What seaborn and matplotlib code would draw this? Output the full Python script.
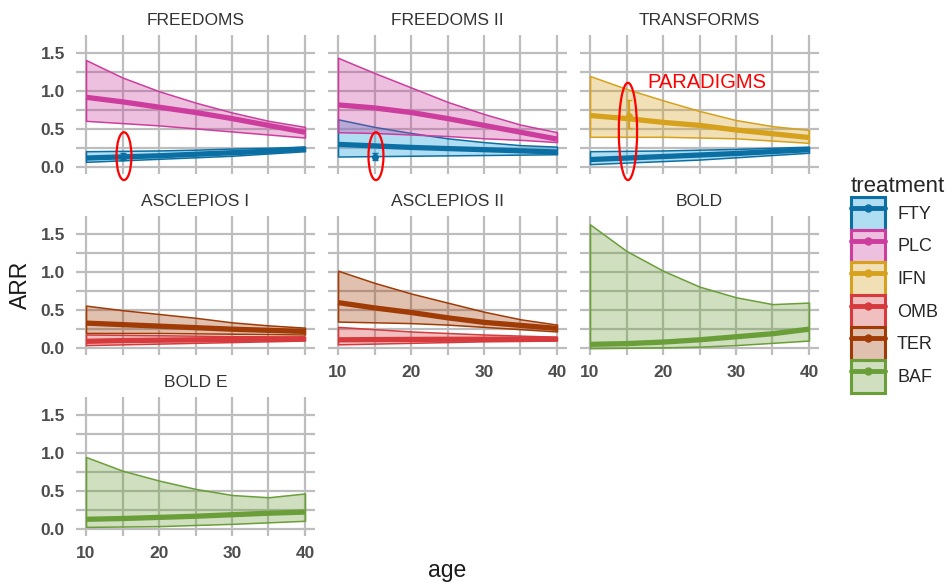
import numpy as np
import pandas as pd
import matplotlib
matplotlib.use("Agg")
import matplotlib.pyplot as plt
import seaborn as sns
from matplotlib.patches import Ellipse, Patch
from matplotlib.lines import Line2D
from matplotlib.colors import to_rgba

sns.set_style("white")
plt.rcParams["font.family"] = ["Liberation Sans", "DejaVu Sans"]

# ---- data ----
ages = [10, 15, 20, 25, 30, 35, 40]
studies = ["FREEDOMS", "FREEDOMS II", "TRANSFORMS", "ASCLEPIOS I",
           "ASCLEPIOS II", "BOLD", "BOLD E"]
treatments = ["FTY", "PLC", "IFN", "OMB", "TER", "BAF"]

freedoms_fty_mid = [0.12, 0.135, 0.15, 0.17, 0.19, 0.21, 0.24]
freedoms_fty_lo = [0.07, 0.09, 0.11, 0.13, 0.15, 0.18, 0.21]
freedoms_fty_hi = [0.21, 0.215, 0.22, 0.23, 0.245, 0.255, 0.27]
freedoms_plc_mid = [0.92, 0.86, 0.79, 0.72, 0.64, 0.55, 0.46]
freedoms_plc_lo = [0.61, 0.58, 0.55, 0.51, 0.47, 0.43, 0.39]
freedoms_plc_hi = [1.41, 1.18, 1.00, 0.85, 0.72, 0.61, 0.53]

freedoms2_fty_mid = [0.30, 0.28, 0.26, 0.245, 0.23, 0.215, 0.20]
freedoms2_fty_lo = [0.14, 0.145, 0.15, 0.155, 0.16, 0.165, 0.17]
freedoms2_fty_hi = [0.63, 0.53, 0.45, 0.38, 0.33, 0.29, 0.27]
freedoms2_plc_mid = [0.82, 0.78, 0.72, 0.64, 0.55, 0.46, 0.37]
freedoms2_plc_lo = [0.46, 0.45, 0.43, 0.41, 0.38, 0.36, 0.33]
freedoms2_plc_hi = [1.44, 1.24, 1.05, 0.86, 0.70, 0.56, 0.46]

transforms_fty_mid = [0.10, 0.12, 0.14, 0.16, 0.18, 0.205, 0.23]
transforms_fty_lo = [0.04, 0.06, 0.08, 0.10, 0.13, 0.16, 0.19]
transforms_fty_hi = [0.21, 0.215, 0.22, 0.23, 0.24, 0.255, 0.27]
transforms_ifn_mid = [0.68, 0.64, 0.59, 0.55, 0.49, 0.44, 0.39]
transforms_ifn_lo = [0.40, 0.40, 0.40, 0.39, 0.38, 0.35, 0.32]
transforms_ifn_hi = [1.20, 1.03, 0.88, 0.74, 0.62, 0.54, 0.49]

asclepios1_omb_mid = [0.09, 0.10, 0.105, 0.11, 0.115, 0.12, 0.125]
asclepios1_omb_lo = [0.04, 0.05, 0.06, 0.07, 0.08, 0.09, 0.10]
asclepios1_omb_hi = [0.18, 0.175, 0.17, 0.165, 0.16, 0.155, 0.15]
asclepios1_ter_mid = [0.33, 0.31, 0.29, 0.27, 0.25, 0.235, 0.22]
asclepios1_ter_lo = [0.20, 0.20, 0.20, 0.195, 0.19, 0.185, 0.18]
asclepios1_ter_hi = [0.56, 0.50, 0.45, 0.40, 0.34, 0.30, 0.27]

asclepios2_omb_mid = [0.11, 0.113, 0.115, 0.117, 0.118, 0.119, 0.12]
asclepios2_omb_lo = [0.05, 0.06, 0.07, 0.08, 0.09, 0.095, 0.10]
asclepios2_omb_hi = [0.28, 0.25, 0.22, 0.20, 0.18, 0.165, 0.15]
asclepios2_ter_mid = [0.60, 0.53, 0.47, 0.40, 0.34, 0.30, 0.26]
asclepios2_ter_lo = [0.35, 0.34, 0.33, 0.31, 0.28, 0.25, 0.22]
asclepios2_ter_hi = [1.02, 0.86, 0.72, 0.60, 0.48, 0.38, 0.31]

bold_baf_mid = [0.05, 0.06, 0.08, 0.11, 0.15, 0.19, 0.25]
bold_baf_lo = [0.00, 0.005, 0.01, 0.02, 0.04, 0.07, 0.10]
bold_baf_hi = [1.63, 1.28, 1.02, 0.81, 0.67, 0.58, 0.60]

bolde_baf_mid = [0.13, 0.14, 0.155, 0.17, 0.19, 0.21, 0.225]
bolde_baf_lo = [0.03, 0.035, 0.04, 0.055, 0.07, 0.09, 0.11]
bolde_baf_hi = [0.95, 0.77, 0.64, 0.53, 0.45, 0.42, 0.47]

# single trial estimates marked at age 15
trial_study = ["FREEDOMS", "FREEDOMS II", "TRANSFORMS"]
trial_treat = ["FTY", "FTY", "IFN"]
trial_age = [15.1, 15.1, 15.3]
trial_arr = [0.14, 0.14, 0.68]
trial_lo = [0.10, 0.10, 0.51]
trial_hi = [0.18, 0.18, 0.88]

line_colors = ["#0b6fa4", "#cc3d9e", "#d6a11c", "#d63a3d", "#a13b06", "#6a9e38"]
fill_colors = ["#4fb4e4", "#cc3d9e", "#d6a11c", "#d63a3d", "#a13b06", "#6a9e38"]
fill_alpha = [0.45, 0.32, 0.32, 0.32, 0.32, 0.32]

curves = [
    ("FREEDOMS", "FTY", freedoms_fty_mid, freedoms_fty_lo, freedoms_fty_hi),
    ("FREEDOMS", "PLC", freedoms_plc_mid, freedoms_plc_lo, freedoms_plc_hi),
    ("FREEDOMS II", "FTY", freedoms2_fty_mid, freedoms2_fty_lo, freedoms2_fty_hi),
    ("FREEDOMS II", "PLC", freedoms2_plc_mid, freedoms2_plc_lo, freedoms2_plc_hi),
    ("TRANSFORMS", "FTY", transforms_fty_mid, transforms_fty_lo, transforms_fty_hi),
    ("TRANSFORMS", "IFN", transforms_ifn_mid, transforms_ifn_lo, transforms_ifn_hi),
    ("ASCLEPIOS I", "OMB", asclepios1_omb_mid, asclepios1_omb_lo, asclepios1_omb_hi),
    ("ASCLEPIOS I", "TER", asclepios1_ter_mid, asclepios1_ter_lo, asclepios1_ter_hi),
    ("ASCLEPIOS II", "OMB", asclepios2_omb_mid, asclepios2_omb_lo, asclepios2_omb_hi),
    ("ASCLEPIOS II", "TER", asclepios2_ter_mid, asclepios2_ter_lo, asclepios2_ter_hi),
    ("BOLD", "BAF", bold_baf_mid, bold_baf_lo, bold_baf_hi),
    ("BOLD E", "BAF", bolde_baf_mid, bolde_baf_lo, bolde_baf_hi),
]

rows = []
for study, treat, mid, lo, hi in curves:
    for a, m, l, h in zip(ages, mid, lo, hi):
        rows.append({"study": study, "treatment": treat, "age": a,
                     "ARR": m, "lo": l, "hi": h})
df = pd.DataFrame(rows)

line_pal = dict(zip(treatments, line_colors))
fill_pal = {t: to_rgba(c, a) for t, c, a in zip(treatments, fill_colors, fill_alpha)}


def draw_band(data, color, label=None, **kws):
    ax = plt.gca()
    ax.fill_between(data["age"], data["lo"], data["hi"],
                    facecolor=fill_pal[label], edgecolor=color, lw=1.1, zorder=2)


g = sns.FacetGrid(df, col="study", col_order=studies, col_wrap=3,
                  hue="treatment", hue_order=treatments, palette=line_pal,
                  sharex=True, sharey=True, despine=False)
g.map_dataframe(draw_band)
g.map_dataframe(sns.lineplot, x="age", y="ARR", lw=3.8,
                solid_capstyle="butt", zorder=3)
g.set_titles("{col_name}", size=12.5, color="#333333", pad=7)
g.set_axis_labels("", "")

fig = g.figure
fig.set_size_inches(9.52, 5.83)
W, H = 952, 583
lefts = [76, 328, 580]
tops = [35, 216, 397]
for i, ax in enumerate(g.axes):
    r, c = divmod(i, 3)
    ax.set_position([lefts[c] / W, 1 - (tops[r] + 139) / H, 239 / W, 139 / H])
    ax.set_xlim(8.63, 41.37)
    ax.set_ylim(-0.09, 1.74)
    ax.set_xticks([10, 20, 30, 40])
    ax.set_xticks([15, 25, 35], minor=True)
    ax.set_yticks([0, 0.5, 1.0, 1.5])
    ax.set_yticklabels(["0.0", "0.5", "1.0", "1.5"])
    ax.set_yticks([0.25, 0.75, 1.25], minor=True)
    ax.grid(which="both", color="#bdbdbd", lw=1.6, zorder=0)
    ax.set_axisbelow(True)
    for s in ax.spines.values():
        s.set_visible(False)
    ax.tick_params(which="both", length=0)
    ax.tick_params(axis="y", pad=8, labelsize=12.5, labelcolor="#4d4d4d",
                   labelleft=(c == 0))
    ax.tick_params(axis="x", pad=7, labelsize=12.5, labelcolor="#4d4d4d",
                   labelbottom=(i >= 4))
    for lab in ax.get_xticklabels() + ax.get_yticklabels():
        lab.set_fontweight("bold")

# trial estimates, highlighted with red ellipses
ax_of = dict(zip(studies, g.axes))
for s, t, a, v, l, h in zip(trial_study, trial_treat, trial_age,
                            trial_arr, trial_lo, trial_hi):
    ax = ax_of[s]
    ax.errorbar([a], [v], yerr=[[v - l], [h - v]], fmt="o", ms=4,
                color=line_pal[t], elinewidth=1.5, capsize=2.5, zorder=4)

for s, cy, w, hgt in [("FREEDOMS", 0.145, 2.05, 0.63),
                      ("FREEDOMS II", 0.145, 2.05, 0.63),
                      ("TRANSFORMS", 0.47, 2.5, 1.28)]:
    ax_of[s].add_patch(Ellipse((15.2, cy), w, hgt, fill=False, edgecolor="red",
                               lw=1.6, clip_on=False, zorder=5))
ax_of["TRANSFORMS"].text(17.8, 1.12, "PARADIGMS", color="red", fontsize=14.5,
                         va="center", ha="left", zorder=5)

fig.text(20 / W, 1 - 285 / H, "ARR", rotation=90, fontsize=16.5,
         ha="center", va="center", color="#1a1a1a")
fig.text(447 / W, 1 - 571 / H, "age", fontsize=16.5, ha="center", va="center",
         color="#1a1a1a")

handles = [(Patch(facecolor=fill_pal[t], edgecolor=line_pal[t], lw=2.2),
            Line2D([], [], color=line_pal[t], lw=3.5, marker="o", ms=5))
           for t in treatments]
fig.legend(handles, treatments, title="treatment", loc="upper left",
           bbox_to_anchor=(851 / W, 1 - 176 / H), frameon=False,
           fontsize=13, title_fontsize=16, handlelength=1.9, handleheight=2.4,
           labelspacing=0.0, handletextpad=0.65, borderpad=0, borderaxespad=0,
           alignment="left")

fig.savefig("out.png", dpi=100)
